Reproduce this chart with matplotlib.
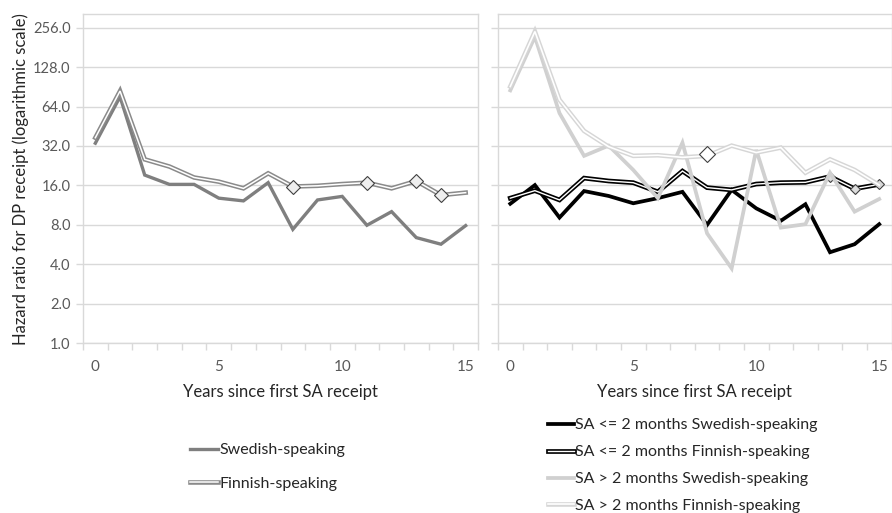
import matplotlib
matplotlib.use("Agg")
import matplotlib.pyplot as plt
from matplotlib.legend_handler import HandlerTuple
from matplotlib.ticker import FixedLocator, NullFormatter

plt.rcParams["font.family"] = ["Lato", "DejaVu Sans"]

# ---------------- Data ---------------- #
years = list(range(16))

# left panel
swedish = [33.6, 76, 19.2, 16.3, 16.3, 12.8, 12.2, 16.8, 7.4, 12.4, 13.2, 7.95, 10.1, 6.4, 5.7, 7.9]
finnish = [37.0, 84, 25.3, 22.3, 18.4, 17.1, 15.2, 19.8, 15.7, 15.9, 16.4, 16.8, 15.2, 17.3, 13.5, 14.1]
finnish_marked = [8, 11, 13, 14]

# right panel
short_sw = [11.6, 16.1, 9.1, 14.5, 13.3, 11.7, 12.8, 14.3, 8.0, 14.8, 10.7, 8.6, 11.5, 4.95, 5.7, 8.1]
short_fi = [12.8, 14.6, 12.4, 18.2, 17.3, 16.8, 14.3, 20.6, 15.4, 14.8, 16.4, 16.8, 16.9, 18.7, 15.1, 16.3]
long_sw = [85, 218, 57, 26.9, 32.2, 21, 12.8, 33.9, 6.9, 3.73, 29.9, 7.63, 8.1, 20, 10.1, 12.6]
long_fi = [91, 239, 72, 41.7, 31.6, 26.9, 27.2, 26.2, 26.9, 32.2, 28.5, 31.1, 20, 25.3, 21, 16.1]
short_fi_marked = [13, 14, 15]
long_fi_marked = [8]

ytick_vals = [1, 2, 4, 8, 16, 32, 64, 128, 256]
xtick_vals = [0, 5, 10, 15]

# ---------------- Styling helpers ---------------- #
GRID = "#d9d9d9"
TXT = "#595959"


def setup_axis(ax, show_ylabels):
    ax.set_yscale("log", base=2)
    ax.set_ylim(1, 325)
    ax.set_xlim(-0.5, 15.5)
    ax.yaxis.set_major_locator(FixedLocator(ytick_vals))
    ax.yaxis.set_minor_locator(FixedLocator([]))
    if show_ylabels:
        ax.set_yticklabels([f"{v:.1f}" for v in ytick_vals])
    else:
        ax.yaxis.set_major_formatter(NullFormatter())
    ax.set_xticks(xtick_vals)
    ax.set_xticks([i - 0.5 for i in range(17)], minor=True)
    ax.tick_params(axis="x", which="major", length=0, pad=12, labelsize=11, labelcolor=TXT)
    ax.tick_params(axis="x", which="minor", length=5, color=GRID, width=1)
    ax.tick_params(axis="y", which="major", length=5, color=GRID, width=1, pad=4,
                   labelsize=10.5, labelcolor=TXT)
    ax.grid(axis="y", color=GRID, linewidth=1)
    for s in ax.spines.values():
        s.set_color(GRID)
        s.set_linewidth(1)
    ax.set_axisbelow(True)
    ax.set_xlabel("Years since first SA receipt", fontsize=12, color="#262626", labelpad=7)


def double_line(ax, x, y, color, outer=3.3, inner=1.1):
    a, = ax.plot(x, y, color=color, lw=outer, solid_joinstyle="miter")
    b, = ax.plot(x, y, color="white", lw=inner, solid_joinstyle="miter")
    return a, b


fig = plt.figure(figsize=(8.92, 5.13), dpi=100)
W, H = 892, 513
axl = fig.add_axes([83 / W, (H - 343.3) / H, 395 / W, 329.3 / H])
axr = fig.add_axes([498 / W, (H - 343.3) / H, 393.5 / W, 329.3 / H])
pair_handler = {tuple: HandlerTuple(ndivide=1, pad=0)}

# ---------------- Left panel ---------------- #
setup_axis(axl, True)
axl.set_ylabel("Hazard ratio for DP receipt (logarithmic scale)", fontsize=12,
               color="#262626", labelpad=3)
sw_line, = axl.plot(years, swedish, color="#7f7f7f", lw=2.4, solid_joinstyle="miter")
fi_pair = double_line(axl, years, finnish, "#8a8a8a")
axl.plot(finnish_marked, [finnish[i] for i in finnish_marked], linestyle="none", marker="D",
         markersize=7, markerfacecolor="#eeeeee", markeredgecolor="#404040", markeredgewidth=0.8)

leg = axl.legend([sw_line, fi_pair], ["Swedish-speaking", "Finnish-speaking"],
                 handler_map=pair_handler,
                 loc="upper left", bbox_to_anchor=(190 / W, 1 - 443 / H),
                 bbox_transform=fig.transFigure, frameon=False, fontsize=11.5,
                 handlelength=1.75, handletextpad=0.1, labelspacing=1.2,
                 borderpad=0, borderaxespad=0)
for t in leg.get_texts():
    t.set_color("#262626")

# ---------------- Right panel ---------------- #
setup_axis(axr, False)
ssw, = axr.plot(years, short_sw, color="black", lw=2.7, solid_joinstyle="miter")
sfi = double_line(axr, years, short_fi, "black", outer=3.4, inner=1.0)
axr.plot(short_fi_marked, [short_fi[i] for i in short_fi_marked], linestyle="none", marker="D",
         markersize=5, markerfacecolor="#dddddd", markeredgecolor="#404040", markeredgewidth=0.8)
lsw, = axr.plot(years, long_sw, color="#d0d0d0", lw=2.7, solid_joinstyle="miter")
lfi = double_line(axr, years, long_fi, "#d6d6d6", outer=3.3, inner=1.2)
axr.plot(long_fi_marked, [long_fi[i] * 1.03 for i in long_fi_marked], linestyle="none", marker="D",
         markersize=8, markerfacecolor="white", markeredgecolor="#404040", markeredgewidth=0.8)

leg2 = axr.legend([ssw, sfi, lsw, lfi],
                  ["SA <= 2 months Swedish-speaking", "SA <= 2 months Finnish-speaking",
                   "SA > 2 months Swedish-speaking", "SA > 2 months Finnish-speaking"],
                  handler_map=pair_handler,
                  loc="upper left", bbox_to_anchor=(548 / W, 1 - 418 / H),
                  bbox_transform=fig.transFigure, frameon=False, fontsize=11.5,
                  handlelength=1.6, handletextpad=0.1, labelspacing=0.8,
                  borderpad=0, borderaxespad=0)
for t in leg2.get_texts():
    t.set_color("#262626")

fig.savefig("out.png", dpi=100)
